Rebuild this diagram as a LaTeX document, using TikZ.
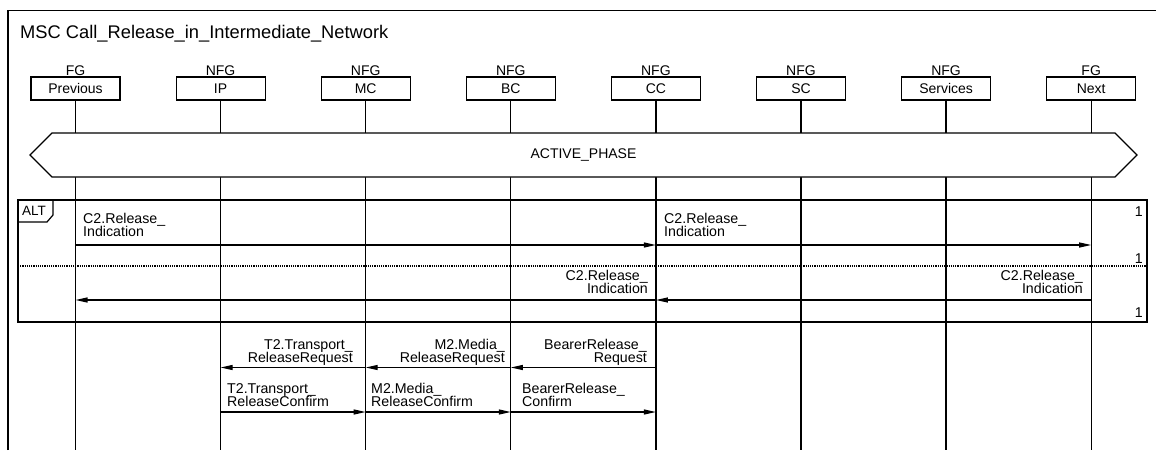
\documentclass[tikz,border=0pt]{standalone}
\usepackage{fontspec}
\setmainfont{Liberation Sans}
\usetikzlibrary{arrows.meta,positioning,shapes.symbols}
\tikzset{
  inst/.style={draw=black, line width=1.2pt, minimum width=89pt, minimum height=23pt, inner sep=0pt, font=\fontsize{14}{14}\selectfont},
  kindlbl/.style={inner sep=0pt, anchor=base, font=\fontsize{14}{14}\selectfont},
  lifeline/.style={line width=1.3pt},
  frameline/.style={line width=1.2pt},
  msg/.style={-{Triangle[length=12pt,width=5pt]}, line width=1.2pt},
  msglbl/.style={inner sep=0pt, text depth=0pt, font=\fontsize{14.2}{13.3}\selectfont},
  phasebox/.style={draw=black, fill=white, line width=1.2pt, signal, signal to=west and east, signal pointer angle=90, minimum width=1107pt, minimum height=44pt, inner sep=0pt, font=\fontsize{14}{14}\selectfont}
}
\begin{document}
\begin{tikzpicture}[x=1pt,y=-1pt]
\useasboundingbox (0,0) rectangle (1156,450);
% outer MSC frame
\draw[frameline] (8,450) |- (1156,10.5);
\node[anchor=base west, inner sep=0pt, font=\fontsize{18.3}{20}\selectfont] (title) at (20,38) {MSC Call\_Release\_in\_Intermediate\_Network};
% instances
\node[inst] (prev) at (75.5,88.5) {Previous};
\node[inst] (ip) at (220.6,88.5) {IP};
\node[inst] (mc) at (365.7,88.5) {MC};
\node[inst] (bc) at (510.8,88.5) {BC};
\node[inst] (cc) at (655.9,88.5) {CC};
\node[inst] (sc) at (801,88.5) {SC};
\node[inst] (serv) at (946.1,88.5) {Services};
\node[inst] (next) at (1091.2,88.5) {Next};
\node[kindlbl] (prevk) at (75.5,75) {FG};
\node[kindlbl] (ipk) at (220.6,75) {NFG};
\node[kindlbl] (mck) at (365.7,75) {NFG};
\node[kindlbl] (bck) at (510.8,75) {NFG};
\node[kindlbl] (cck) at (655.9,75) {NFG};
\node[kindlbl] (sck) at (801,75) {NFG};
\node[kindlbl] (servk) at (946.1,75) {NFG};
\node[kindlbl] (nextk) at (1091.2,75) {FG};
\coordinate (bot) at (0,450);
\draw[lifeline] (prev.south) -- (prev |- bot);
\draw[lifeline] (ip.south) -- (ip |- bot);
\draw[lifeline] (mc.south) -- (mc |- bot);
\draw[lifeline] (bc.south) -- (bc |- bot);
\draw[lifeline] (cc.south) -- (cc |- bot);
\draw[lifeline] (sc.south) -- (sc |- bot);
\draw[lifeline] (serv.south) -- (serv |- bot);
\draw[lifeline] (next.south) -- (next |- bot);
% condition
\node[phasebox] (active) at (583.5,155) {ACTIVE\_PHASE};
% alt frame
\draw[frameline] (18,200) rectangle (1147,322);
\draw[frameline] (18,200) -- (53,200) -- (53,215) -- (47,222) -- (18,222);
\node[anchor=base west, inner sep=0pt, font=\fontsize{13.5}{14}\selectfont] (alt) at (22,215.5) {ALT};
\draw[frameline, dash pattern=on 1.1pt off 1.1pt] (18,266) -- (1147,266);
\node[msglbl, anchor=base east] (one1) at (1143,216) {1};
\node[msglbl, anchor=base east] (one2) at (1143,263.5) {1};
\node[msglbl, anchor=base east] (one3) at (1143,317) {1};
% messages
\coordinate (r1) at (0,245);
\coordinate (r2) at (0,300);
\coordinate (r3) at (0,367.5);
\coordinate (r4) at (0,412);
\draw[msg] (prev |- r1) -- (cc |- r1);
\draw[msg] (cc |- r1) -- (next |- r1);
\node[msglbl, anchor=south west, align=left] (ind1) at (83,237) {C2.Release\_\\Indication};
\node[msglbl, anchor=south west, align=left] (ind2) at (664,237) {C2.Release\_\\Indication};
\draw[msg] (next |- r2) -- (cc |- r2);
\draw[msg] (cc |- r2) -- (prev |- r2);
\node[msglbl, anchor=south east, align=right] (ind3) at (1083,294) {C2.Release\_\\Indication};
\node[msglbl, anchor=south east, align=right] (ind4) at (648,294) {C2.Release\_\\Indication};
\draw[msg] (cc |- r3) -- (bc |- r3);
\draw[msg] (bc |- r3) -- (mc |- r3);
\draw[msg] (mc |- r3) -- (ip |- r3);
\node[msglbl, anchor=south east, align=right] (brreq) at (647,362.5) {BearerRelease\_\\Request};
\node[msglbl, anchor=south east, align=right] (mreq) at (505,362.5) {M2.Media\_\\ReleaseRequest};
\node[msglbl, anchor=south east, align=right] (treq) at (353,362.5) {T2.Transport\_\\ReleaseRequest};
\draw[msg] (ip |- r4) -- (mc |- r4);
\draw[msg] (mc |- r4) -- (bc |- r4);
\draw[msg] (bc |- r4) -- (cc |- r4);
\node[msglbl, anchor=south west, align=left] (tcnf) at (227,407) {T2.Transport\_\\ReleaseConfirm};
\node[msglbl, anchor=south west, align=left] (mcnf) at (371,407) {M2.Media\_\\ReleaseConfirm};
\node[msglbl, anchor=south west, align=left] (brcnf) at (522,407) {BearerRelease\_\\Confirm};
\end{tikzpicture}
\end{document}
